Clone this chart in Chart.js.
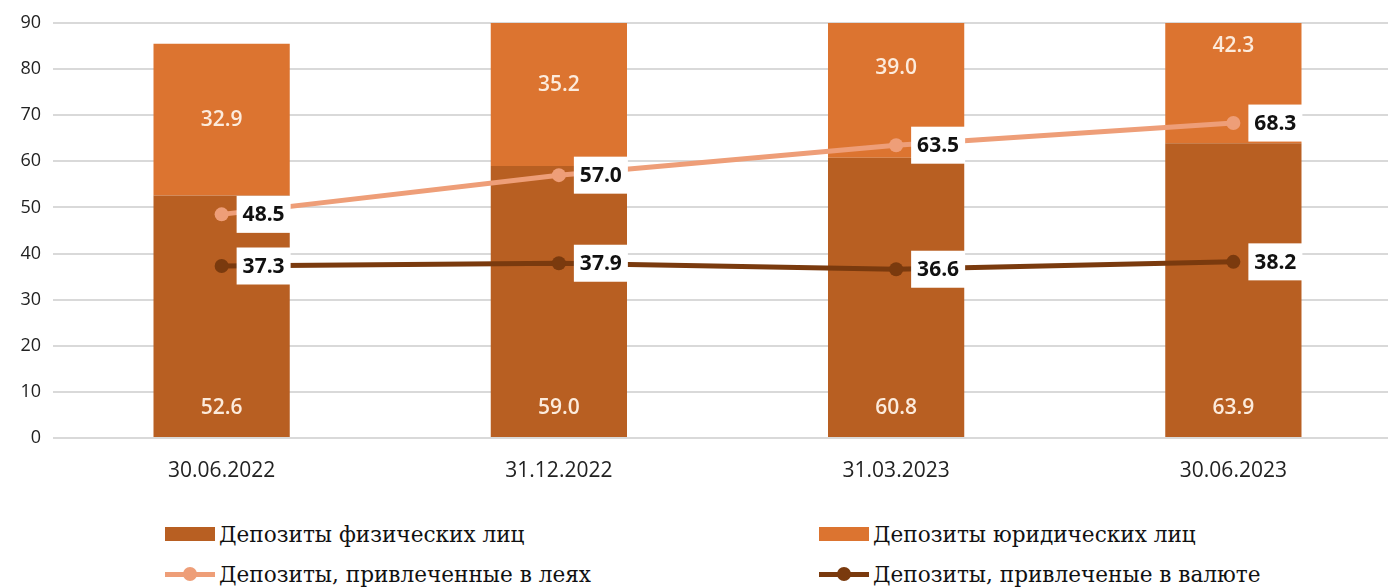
<!DOCTYPE html>
<html>
<head>
<meta charset="utf-8">
<script src="https://cdn.jsdelivr.net/npm/chart.js@4"></script>
<style>
  html, body { margin: 0; padding: 0; background: #fff; overflow: hidden; }
  #wrap { position: relative; width: 1388px; height: 587px; overflow: hidden; }
  #graph-box { position: absolute; left: 0; top: 0; width: 1409px; height: 500px; }
  .legend { position: absolute; font-family: 'DejaVu Serif', serif; font-size: 21.6px; color: #111; white-space: nowrap; }
  .legend .mark { display: inline-block; vertical-align: middle; position: relative; width: 50px; height: 14px; margin-right: 4px; }
  .legend span.txt { vertical-align: middle; }
</style>
</head>
<body>
<div id="wrap">
  <div id="graph-box"><canvas id="graph" width="1409" height="500"></canvas></div>
  <div class="legend" style="left:165px; top:520px;"><span class="mark" style="background:#B85F22"></span><span class="txt">Депозиты физических лиц</span></div>
  <div class="legend" style="left:819px; top:520px;"><span class="mark" style="background:#DC7430"></span><span class="txt">Депозиты юридических лиц</span></div>
  <div class="legend" style="left:165px; top:560px;"><span class="mark" id="mk1"></span><span class="txt">Депозиты, привлеченные в леях</span></div>
  <div class="legend" style="left:819px; top:560px;"><span class="mark" id="mk2"></span><span class="txt">Депозиты, привлеченые в валюте</span></div>
</div>
<script>
const categories = ['30.06.2022', '31.12.2022', '31.03.2023', '30.06.2023'];
const individuals = [52.6, 59.0, 60.8, 63.9];
const companies = [32.9, 35.2, 39.0, 42.3];
const inLei = [48.5, 57.0, 63.5, 68.3];
const inCurrency = [37.3, 37.9, 36.6, 38.2];
const yTicks = [0, 10, 20, 30, 40, 50, 60, 70, 80, 90];

const colIndividuals = '#B85F22';
const colCompanies = '#DC7430';
const colLei = '#EE9E78';
const colCurrency = '#7A3A0E';

// legend line markers
function lineMark(id, color) {
  const el = document.getElementById(id);
  el.innerHTML =
    `<span style="position:absolute;left:0;top:5px;width:50px;height:5px;background:${color}"></span>` +
    `<span style="position:absolute;left:18px;top:0;width:14px;height:14px;border-radius:50%;background:${color}"></span>`;
}
lineMark('mk1', colLei);
lineMark('mk2', colCurrency);

const labelsPlugin = {
  id: 'valueLabels',
  afterDatasetsDraw(chart) {
    const ctx = chart.ctx;
    const y = chart.scales.y;
    ctx.save();
    ctx.textAlign = 'center';
    ctx.textBaseline = 'middle';
    ctx.font = '600 21px "Open Sans", sans-serif';
    ctx.fillStyle = '#FCEBDC';
    // bar labels
    chart.getDatasetMeta(0).data.forEach((bar, i) => {
      ctx.fillText(individuals[i].toFixed(1), bar.x, y.getPixelForValue(6.5));
    });
    chart.getDatasetMeta(1).data.forEach((bar, i) => {
      const mid = individuals[i] + companies[i] / 2;
      ctx.fillText(companies[i].toFixed(1), bar.x, y.getPixelForValue(mid));
    });
    // line labels in white boxes
    ctx.font = 'bold 21px "Open Sans", sans-serif';
    [2, 3].forEach((di) => {
      const meta = chart.getDatasetMeta(di);
      const vals = chart.data.datasets[di].data;
      meta.data.forEach((pt, i) => {
        const bx = pt.x + 15, bw = 54, bh = 37;
        ctx.fillStyle = '#fff';
        ctx.fillRect(bx, pt.y - bh / 2, bw, bh);
        ctx.fillStyle = '#111';
        ctx.fillText(vals[i].toFixed(1), bx + bw / 2, pt.y + 1);
      });
    });
    ctx.restore();
  }
};

new Chart(document.getElementById('graph'), {
  type: 'bar',
  data: {
    labels: categories,
    datasets: [
      { label: 'Депозиты физических лиц', data: individuals, backgroundColor: colIndividuals, stack: 'bars', order: 2,
        barPercentage: 0.404, categoryPercentage: 1 },
      { label: 'Депозиты юридических лиц', data: companies, backgroundColor: colCompanies, stack: 'bars', order: 2,
        barPercentage: 0.404, categoryPercentage: 1 },
      { type: 'line', label: 'Депозиты, привлеченные в леях', data: inLei, stack: 'l1', order: 1,
        borderColor: colLei, backgroundColor: colLei, borderWidth: 5, pointRadius: 7, pointBorderWidth: 0 },
      { type: 'line', label: 'Депозиты, привлеченые в валюте', data: inCurrency, stack: 'l2', order: 0,
        borderColor: colCurrency, backgroundColor: colCurrency, borderWidth: 5, pointRadius: 7, pointBorderWidth: 0 }
    ]
  },
  options: {
    responsive: false,
    animation: false,
    layout: { padding: { top: 23, right: 0, left: 0, bottom: 0 } },
    plugins: { legend: { display: false }, tooltip: { enabled: false } },
    scales: {
      x: {
        stacked: true,
        offset: true,
        grid: { display: false },
        border: { display: false },
        ticks: { color: '#222', font: { family: 'Open Sans', size: 21 }, padding: 12 },
        afterFit(scale) { scale.height = 62; }
      },
      y: {
        stacked: true,
        min: 0,
        max: 90,
        afterBuildTicks(scale) { scale.ticks = yTicks.map((v) => ({ value: v })); },
        grid: { color: '#D9D9D9', lineWidth: 2, drawTicks: false },
        border: { display: false },
        ticks: { color: '#222', font: { family: 'Open Sans', size: 18 }, padding: 12 },
        afterFit(scale) { scale.width = 53; }
      }
    }
  },
  plugins: [labelsPlugin]
});
</script>
</body>
</html>
